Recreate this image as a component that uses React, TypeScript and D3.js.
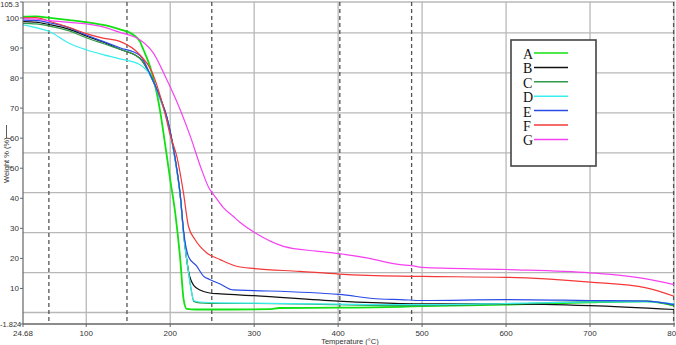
import React from 'react';
import * as d3 from 'd3';

type Pt = [number, number];

// temperature (°C), weight (%)
const seriesA: Pt[] = [[24.68,100.4],[40,100.5],[57,100],[80,99.3],[100,98.6],[128,97.2],[140,96.2],[156,94.4],[164,92.1],[168,89.5],[176,83.8],[184,75],[188,69],[192,61.7],[200,46.2],[206,35.1],[212,19.6],[216,6.3],[219.7,3.2],[230,3.0],[270,3.0],[318,3.1],[330,3.5],[400,3.6],[474,3.9],[500,4.1],[600,4.6],[700,5.4],[767,5.7],[800,4.3]];
const seriesB: Pt[] = [[24.68,98.8],[40,98.6],[56,97.8],[80,96.2],[100,94],[120,92],[140,89.6],[164,86.6],[178,80],[188,73.5],[196,67],[206,53],[212,41],[216,28.5],[222,15.5],[228,11],[236,9.4],[247,8.5],[260,8.2],[300,7.6],[400,5.8],[474,5.0],[500,4.9],[600,4.9],[700,4.3],[800,3.0]];
const seriesC: Pt[] = [[24.68,98.2],[40,98],[56,97.3],[80,95.7],[100,93.4],[120,91.5],[140,89.6],[164,86.5],[178,80],[188,73],[196,66.5],[206,52.5],[212,40.5],[216,28],[222,15],[226,8],[228,5.7],[235,5.2],[260,5.0],[300,5.0],[400,4.6],[474,4.3],[500,4.3],[600,4.8],[700,5.6],[767,5.7],[800,4.3]];
const seriesD: Pt[] = [[24.68,97.7],[40,96.8],[56,95.5],[80,91.5],[100,89.4],[120,87.8],[140,86.4],[164,84.4],[178,80],[188,73],[196,66.5],[206,52.5],[212,40.5],[216,28],[222,15],[226,8],[228,6],[235,5.5],[260,5.2],[300,5.1],[400,4.8],[474,4.6],[500,4.6],[600,5.0],[700,5.5],[767,5.6],[800,4.9]];
const seriesE: Pt[] = [[24.68,99.3],[40,99.2],[56,98.4],[80,96.7],[100,94.3],[120,92.2],[140,90.1],[164,87.5],[178,80],[188,73.5],[196,67],[206,53],[212,41],[216,29],[222,20.5],[231.6,17.4],[239.6,14.1],[247,13],[259.5,11.5],[275,9.5],[300,9.3],[401,8.0],[450,6.5],[474,6.3],[500,6.0],[600,6.3],[700,6.0],[767,5.8],[800,4.6]];
const seriesF: Pt[] = [[24.68,100],[40,100.1],[56,98.9],[80,96.8],[100,94.8],[120,93.3],[140,92.2],[164,87.7],[178,82.2],[186,76],[194,68],[200,61],[207.8,54],[215.8,41.8],[221.7,30.7],[229.7,26.2],[243.6,21.8],[259.5,19.6],[279,17.4],[301,16.6],[354,15.7],[401,14.8],[474,14.1],[500,14.0],[600,13.7],[700,12.1],[767,10.2],[800,7.4]];
const seriesG: Pt[] = [[24.68,99.8],[40,99.6],[56,99.1],[80,98.5],[100,98],[120,97],[140,95.2],[164,92.7],[180,88.3],[196,79.4],[212,69.4],[224,60.6],[236,50.6],[247,43],[251,41.5],[263,37],[275,34],[283,32],[301,28.5],[335,24],[374,22.4],[401,21.6],[434,20.2],[474,17.9],[487,17.6],[500,17.0],[600,16.3],[700,15.2],[767,13.2],[800,11.3]];

const names = ['A', 'B', 'C', 'D', 'E', 'F', 'G'];
const colors = ['#11e011', '#111111', '#2f9a4a', '#38eeee', '#2a4be6', '#f43838', '#f542f0'];
const allSeries = [seriesA, seriesB, seriesC, seriesD, seriesE, seriesF, seriesG];

const xTicks = [24.68, 100, 200, 300, 400, 500, 600, 700, 800];
const yTicks = [-1.824, 10, 20, 30, 40, 50, 60, 70, 80, 90, 100, 105.3];
const xGrid = [100, 200, 300, 400, 500, 600, 700, 800];
const yGrid = [95, 81.7, 68.4, 55.1, 41.9, 28.6, 15.3, 2.0, 105.3];
const dashedX = [55.5, 148.5, 249.5, 402, 487.5, 799.5];

const W = 676;
const H = 345;

export default function App() {
  const x = d3.scaleLinear().domain([24.68, 800]).range([23, 674]);
  const y = d3.scaleLinear().domain([-1.824, 105.3]).range([324, 2]);
  const path = d3.line<Pt>().x(d => x(d[0])).y(d => y(d[1])).curve(d3.curveMonotoneX);

  const font = 'Liberation Sans, Arial, sans-serif';

  return (
    <svg width={W} height={H} style={{ position: 'absolute', left: 0, top: 0, background: '#fff' }}>
      {/* grid */}
      {yGrid.map((v, i) => (
        <line key={'gy' + i} x1={23} x2={675} y1={y(v)} y2={y(v)} stroke="#b8b8b8" strokeWidth={1.3} />
      ))}
      {xGrid.map((v, i) => (
        <line key={'gx' + i} x1={x(v)} x2={x(v)} y1={2} y2={324} stroke="#b8b8b8" strokeWidth={1.3} />
      ))}
      {dashedX.map((v, i) => (
        <line key={'dx' + i} x1={x(v)} x2={x(v)} y1={2} y2={324} stroke="#555" strokeWidth={1.3} strokeDasharray="4,3" />
      ))}

      {/* curves */}
      {allSeries.map((s, i) => (
        <path key={'s' + i} d={path(s) || ''} fill="none" stroke={colors[i]} strokeWidth={i === 0 ? 1.8 : 1.2} />
      ))}

      {/* axes */}
      <line x1={23} x2={23} y1={2} y2={324} stroke="#666" strokeWidth={1.2} />
      <line x1={23} x2={675} y1={324} y2={324} stroke="#666" strokeWidth={1.5} />
      {yTicks.map((v, i) => {
        const isMin = v === -1.824;
        const isMax = v === 105.3;
        return (
          <g key={'yt' + i}>
            <line x1={20} x2={23} y1={y(v)} y2={y(v)} stroke="#666" />
            <text x={isMin ? 0 : 19} y={isMax ? y(v) + 2.5 : y(v)} dy="0.35em" textAnchor={isMin ? 'start' : 'end'}
              fontFamily={font} fontSize={isMin || isMax ? 7.5 : 8} fill="#333">{v}</text>
          </g>
        );
      })}
      {xTicks.map((v, i) => (
        <g key={'xt' + i}>
          <line x1={x(v)} x2={x(v)} y1={324} y2={327} stroke="#666" />
          <text x={x(v)} y={336} textAnchor="middle" fontFamily={font} fontSize={8} fill="#333">{v}</text>
        </g>
      ))}
      <text x={350} y={344} textAnchor="middle" fontFamily={font} fontSize={7.5} fill="#333">Temperature (°C)</text>
      <g transform="translate(9,183) rotate(-90)">
        <text x={0} y={0} textAnchor="start" fontFamily={font} fontSize={7.5} fill="#333">Weight % (%)</text>
        <line x1={45} x2={58} y1={-2.5} y2={-2.5} stroke="#333" strokeWidth={0.8} />
      </g>

      {/* legend */}
      <rect x={511} y={40} width={85} height={126} fill="#fff" stroke="#444" strokeWidth={1.6} />
      {names.map((n, i) => {
        const cy = 54 + i * 14.4;
        return (
          <g key={'lg' + n}>
            <text x={523} y={cy} dy="0.35em" fontFamily="Liberation Serif, Times New Roman, serif" fontSize={14} fill="#111">{n}</text>
            <line x1={534} x2={568} y1={cy - 1} y2={cy - 1} stroke={colors[i]} strokeWidth={1.5} />
          </g>
        );
      })}
    </svg>
  );
}
